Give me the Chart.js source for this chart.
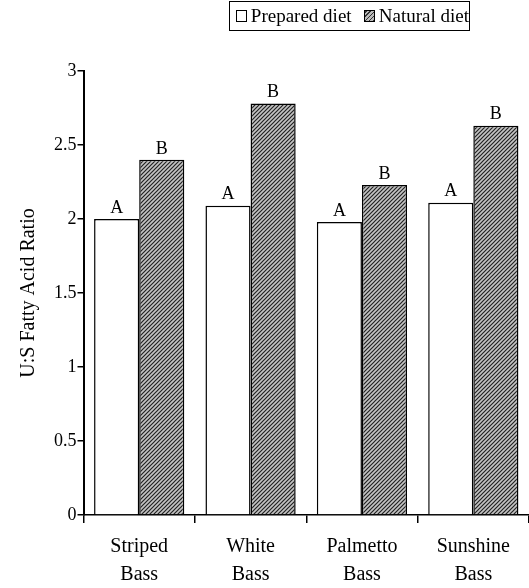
<!DOCTYPE html>
<html>
<head>
<meta charset="utf-8">
<script src="https://cdn.jsdelivr.net/npm/chart.js@4/dist/chart.umd.min.js"></script>
<style>
  html, body { margin: 0; padding: 0; background: #fff; }
  #wrap { position: relative; width: 529px; height: 588px; }
  #legend {
    position: absolute; left: 229px; top: 1px; width: 241px; height: 30px;
    border: 1.5px solid #000; box-sizing: border-box;
    font-family: "Liberation Serif", serif; font-size: 19px; color: #000;
    display: flex; align-items: center; padding-left: 6px; white-space: nowrap;
  }
  .sw { display: inline-block; width: 12px; height: 12px; border: 1px solid #000; box-sizing: border-box; margin-right: 4px; }
  .sw.hatch { background: repeating-linear-gradient(-45deg, #333 0 1px, #bbb 1px 3px); }
</style>
</head>
<body>
<div id="wrap">
  <canvas id="grafAcidos" width="529" height="588"></canvas>
  <div id="legend">
    <span class="sw"></span><span>Prepared diet</span>
    <span style="width:14px"></span>
    <span class="sw hatch"></span><span>Natural diet</span>
  </div>
</div>
<script>
// Dados do gráfico
const categorias = [['Striped', 'Bass'], ['White', 'Bass'], ['Palmetto', 'Bass'], ['Sunshine', 'Bass']];
const dietaPreparada = [2.00, 2.09, 1.98, 2.11];
const dietaNatural = [2.40, 2.78, 2.23, 2.63];
const letrasPreparada = ['A', 'A', 'A', 'A'];
const letrasNatural = ['B', 'B', 'B', 'B'];
const ticksY = [0, 0.5, 1, 1.5, 2, 2.5, 3];

const fonte = '"Liberation Serif", "Times New Roman", serif';

// Padrão hachurado para a dieta natural
function hachura() {
  const c = document.createElement('canvas');
  c.width = 4; c.height = 4;
  const g = c.getContext('2d');
  g.fillStyle = '#c4c4c4';
  g.fillRect(0, 0, 4, 4);
  g.strokeStyle = '#222';
  g.lineWidth = 1.2;
  g.beginPath();
  g.moveTo(-1, 5); g.lineTo(5, -1);
  g.moveTo(-1, 1); g.lineTo(1, -1);
  g.moveTo(3, 5); g.lineTo(5, 3);
  g.stroke();
  return g.createPattern(c, 'repeat');
}

// Letras acima das barras
const letrasPlugin = {
  id: 'letras',
  afterDatasetsDraw(chart) {
    const ctx = chart.ctx;
    const letras = [letrasPreparada, letrasNatural];
    ctx.save();
    ctx.font = '18px ' + fonte;
    ctx.fillStyle = '#000';
    ctx.textAlign = 'center';
    ctx.textBaseline = 'bottom';
    chart.data.datasets.forEach((ds, i) => {
      chart.getDatasetMeta(i).data.forEach((bar, j) => {
        ctx.fillText(letras[i][j], bar.x, bar.y - 2);
      });
    });
    ctx.restore();
  }
};

document.addEventListener('DOMContentLoaded', () => {
  const ctx = document.getElementById('grafAcidos');
  new Chart(ctx, {
    type: 'bar',
    data: {
      labels: categorias,
      datasets: [
        {
          label: 'Prepared diet',
          data: dietaPreparada,
          backgroundColor: '#fff',
          borderColor: '#000',
          borderWidth: 1.5
        },
        {
          label: 'Natural diet',
          data: dietaNatural,
          backgroundColor: hachura(),
          borderColor: '#000',
          borderWidth: 1.5
        }
      ]
    },
    options: {
      responsive: false,
      animation: false,
      layout: { padding: { top: 71, right: 0, left: 13, bottom: 0 } },
      datasets: { bar: { categoryPercentage: 0.81, barPercentage: 1.0 } },
      plugins: {
        legend: { display: false },
        tooltip: { enabled: false }
      },
      scales: {
        x: {
          afterFit: s => { s.height = 73; },
          grid: { display: true, drawOnChartArea: false, drawTicks: true, tickLength: 8, color: '#000', lineWidth: 1.5, offset: true },
          border: { display: true, color: '#000', width: 1.5 },
          ticks: { color: '#000', font: { family: fonte, size: 20, lineHeight: 1.4 }, padding: 10, maxRotation: 0 }
        },
        y: {
          min: 0,
          max: 3,
          afterBuildTicks: axis => { axis.ticks = ticksY.map(v => ({ value: v })); },
          grid: { display: true, drawOnChartArea: false, drawTicks: true, tickLength: 6, color: '#000', lineWidth: 1.5 },
          border: { display: true, color: '#000', width: 2 },
          ticks: { color: '#000', font: { family: fonte, size: 18 }, padding: 1, callback: v => String(v) },
          title: { display: true, text: 'U:S Fatty Acid Ratio', color: '#000', font: { family: fonte, size: 20 }, padding: { bottom: 12 } }
        }
      }
    },
    plugins: [letrasPlugin]
  });
});
</script>
</body>
</html>
